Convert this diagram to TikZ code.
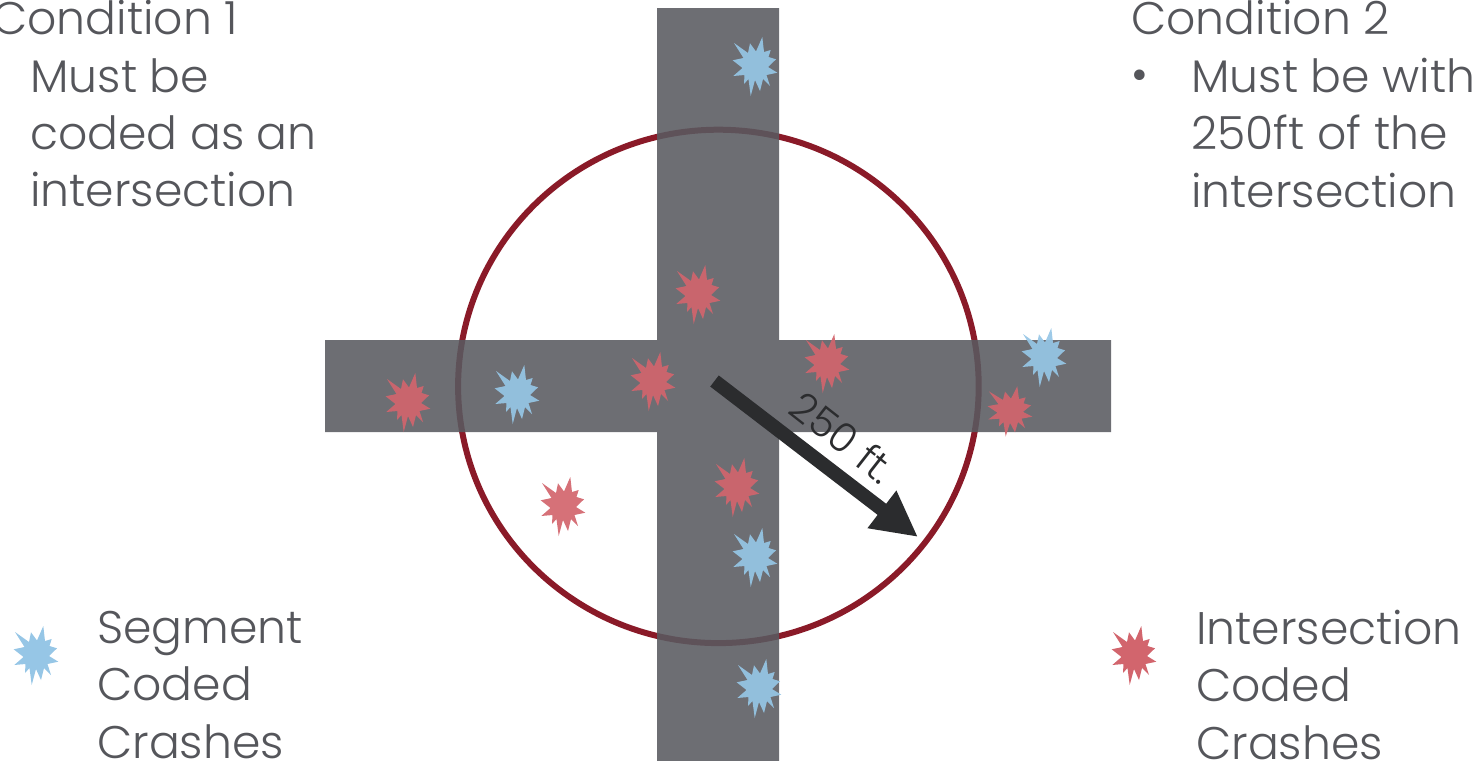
\documentclass[tikz,border=0pt]{standalone}
\usepackage{fontspec}
\setmainfont{Poppins Light}
\usepackage{tikz}
\usetikzlibrary{arrows.meta}
\definecolor{roadgray}{HTML}{595A60}
\definecolor{ringred}{HTML}{8A1A28}
\definecolor{inkgray}{HTML}{55565B}
\definecolor{arrowblack}{HTML}{2B2C2E}
\definecolor{segblue}{HTML}{96C6E6}
\definecolor{intred}{HTML}{D2656D}
\tikzstyle{crashtext}=[anchor=north west, inner sep=0pt, align=left, text=inkgray,
        font=\fontsize{26pt}{32.6pt}\selectfont]
\tikzstyle{segcrash}=[fill=segblue, fill opacity=0.92]
\tikzstyle{intcrash}=[fill=intred, fill opacity=0.92]
\tikzstyle{myarrow}=[-{Triangle[length=0.91cm, width=0.88cm]}, line width=0.28cm, draw=arrowblack]
\tikzset{crashstar/.pic={
	\path[pic actions] (7.3,-29) -- (9,-14) -- (15.7,-16) -- (13.5,-9) -- (21,-6.7) -- (13,1)
		-- (22.3,6.7) -- (11.5,9) -- (15,20) -- (8,13) -- (5,25) -- (0,14) -- (-4.3,30) -- (-6.5,13)
		-- (-11,18) -- (-10.5,9) -- (-21.7,10) -- (-12.5,2) -- (-22.3,-5.7) -- (-11.5,-8) -- (-21,-23)
		-- (-7,-13) -- (-5,-22.7) -- (1,-14.5) -- cycle;
}}

\begin{document}
\begin{tikzpicture}[x=0.02cm, y=-0.02cm]
	\useasboundingbox (0,0) rectangle (1472,761);

	\draw[ringred, line width=0.12cm] (718.4,386.4) ellipse [x radius=260.3, y radius=256.7];

	\fill[roadgray, fill opacity=0.88] (657,8) -- (779,8) -- (779,340) -- (1111,340) -- (1111,432)
		-- (779,432) -- (779,761) -- (657,761) -- (657,432) -- (325,432) -- (325,340) -- (657,340) -- cycle;

	\pic[segcrash] (crashtop) at (755,66) {crashstar};
	\pic[intcrash] (crashnorth) at (698,294) {crashstar};
	\pic[intcrash] (crashcentre) at (653,381) {crashstar};
	\pic[intcrash] (crasheast) at (827,363) {crashstar};
	\pic[segcrash] (crashfareast) at (1044,357) {crashstar};
	\pic[intcrash, yscale=0.85] (crashedge) at (1010,411) {crashstar};
	\pic[segcrash] (crashwest) at (517,394) {crashstar};
	\pic[intcrash] (crashfarwest) at (408,402) {crashstar};
	\pic[intcrash] (crashoff) at (563,506) {crashstar};
	\pic[intcrash] (crashsouth) at (737,487) {crashstar};
	\pic[segcrash] (crashlower) at (755,557) {crashstar};
	\pic[segcrash] (crashbottom) at (759,688) {crashstar};

	\coordinate (radiusfrom) at (714.5,381);
	\coordinate (radiusto) at (918,537);
	\draw[myarrow] (radiusfrom) -- (radiusto);
	\node (radiuslabel) [rotate=-38, text=arrowblack, inner sep=0pt, font=\fontsize{23pt}{28pt}\selectfont] at (843,437) {250 ft.};

	\node (cond1head) [crashtext] at (-8,0) {Condition 1};
	\node (cond1text) [crashtext] at (30,58) {Must be\\coded as an\\intersection};

	\node (cond2head) [crashtext] at (1131,0) {Condition 2};
	\node (cond2dot) [crashtext] at (1131,70) {\textbullet};
	\node (cond2text) [crashtext] at (1191,58) {Must be with\\250ft of the\\intersection};

	\pic[fill=segblue] (legendseg) at (36,655) {crashstar};
	\node (legendsegtext) [crashtext] at (97,611) {Segment\\Coded\\Crashes};

	\pic[fill=intred] (legendint) at (1134,655) {crashstar};
	\node (legendinttext) [crashtext] at (1196,610) {Intersection\\Coded\\Crashes};
\end{tikzpicture}
\end{document}
